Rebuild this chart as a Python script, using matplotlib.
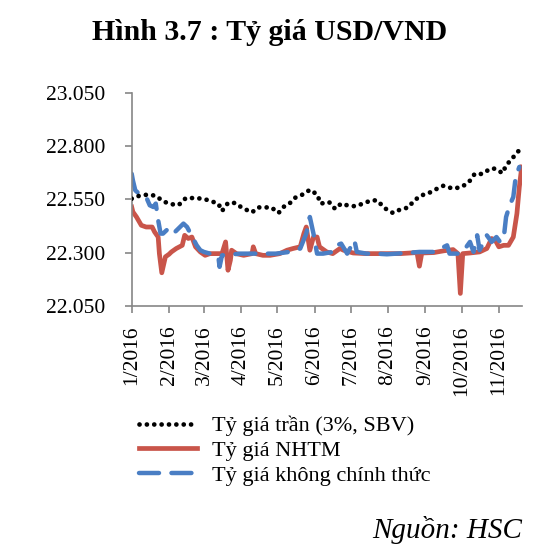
import numpy as np
import pandas as pd
import matplotlib
matplotlib.use("Agg")
import matplotlib.pyplot as plt
from matplotlib.ticker import FuncFormatter

#----------
# Data (days counted from 1/1/2016, values in VND per USD)
start = pd.Timestamp("2016-01-01")

ceiling_days = [0, 6, 13, 20, 26, 32, 39, 45, 53, 60, 66, 72, 75, 80, 86, 92, 100, 105, 111, 116,
                122, 127, 131, 136, 143, 148, 154, 157, 164, 169, 174, 179, 186, 192, 199, 204, 210,
                217, 223, 230, 234, 240, 247, 253, 259, 267, 274, 280, 285, 291, 298, 302, 308, 311,
                317, 323]
ceiling_vals = [22553, 22566, 22572, 22567, 22541, 22528, 22523, 22556, 22556, 22552, 22541, 22530,
                22495, 22533, 22533, 22509, 22489, 22512, 22512, 22512, 22486, 22519, 22530, 22558,
                22575, 22595, 22573, 22530, 22537, 22505, 22530, 22522, 22517, 22530, 22545, 22545,
                22509, 22486, 22502, 22512, 22541, 22567, 22580, 22598, 22614, 22600, 22608, 22630,
                22670, 22669, 22694, 22694, 22673, 22709, 22748, 22788]

nhtm_days = [0, 1, 4, 8, 12, 17, 19, 22, 23, 25, 28, 31, 33, 37, 42, 44, 47, 50, 53, 57, 61, 65,
             71, 75, 78, 80, 82, 83, 87, 93, 100, 101, 103, 109, 115, 123, 129, 134, 140, 143, 145,
             148, 151, 154, 156, 162, 167, 173, 176, 184, 195, 209, 223, 237, 239, 241, 251, 259,
             267, 271, 273, 275, 281, 289, 295, 299, 302, 305, 309, 313, 317, 320, 322, 324]
nhtm_vals = [22514, 22491, 22467, 22428, 22420, 22420, 22397, 22373, 22295, 22205, 22280, 22292,
             22303, 22319, 22334, 22381, 22366, 22373, 22327, 22303, 22287, 22295, 22295, 22295,
             22350, 22217, 22264, 22311, 22295, 22287, 22295, 22327, 22295, 22287, 22287, 22295,
             22311, 22319, 22327, 22389, 22420, 22311, 22373, 22373, 22327, 22303, 22295, 22319,
             22311, 22298, 22295, 22295, 22295, 22300, 22236, 22298, 22300, 22308, 22314, 22295,
             22108, 22295, 22298, 22303, 22319, 22366, 22358, 22327, 22334, 22334, 22373, 22483,
             22608, 22702]

free_days = [0, 1, 3, 6, 12, 15, 18, 20, 22, 24, 26, 29, 32, 36, 43, 46, 54, 57, 60, 65, 72, 73,
             75, 90, 104, 120, 131, 140, 145, 148, 151, 154, 159, 167, 170, 174, 179, 185, 187, 195,
             203, 212, 228, 239, 251, 262, 264, 273, 277, 281, 284, 287, 289, 295, 299, 303, 306,
             309, 311, 314, 317, 319, 322]
free_vals = [22670, 22639, 22592, 22577, 22561, 22522, 22514, 22530, 22452, 22389, 22389, 22405,
             22420, 22397, 22436, 22420, 22334, 22311, 22303, 22295, 22280, 22233, 22287, 22295,
             22295, 22295, 22303, 22319, 22389, 22467, 22389, 22295, 22295, 22303, 22334, 22342,
             22295, 22358, 22303, 22295, 22295, 22292, 22298, 22303, 22303, 22334, 22295, 22295,
             22319, 22350, 22303, 22381, 22311, 22381, 22350, 22373, 22350, 22366, 22467, 22522,
             22561, 22655, 22702]

month_ticks = ["2016-%02d-01" % m for m in range(1, 12)]
month_labels = ["%d/2016" % m for m in range(1, 12)]
y_ticks = [22050, 22300, 22550, 22800, 23050]

labels = ["Tỷ giá trần (3%, SBV)", "Tỷ giá NHTM", "Tỷ giá không chính thức"]
#----------

def to_dates(days):
    return start + pd.to_timedelta(days, unit="D")

plt.rcParams['font.family'] = ['Liberation Serif', 'DejaVu Serif']
grey = '#868686'

fig = plt.figure(figsize=(5.58, 5.56), dpi=100)
ax = fig.add_axes([0.236, 0.450, 0.699, 0.383])

ax.plot(to_dates(ceiling_days), ceiling_vals, color='black', lw=3.4,
        linestyle=(0, (0.01, 1.55)), dash_capstyle='round', label=labels[0], zorder=3)
ax.plot(to_dates(nhtm_days), nhtm_vals, color='#C9554A', lw=3.4,
        solid_joinstyle='round', label=labels[1], zorder=2)
ax.plot(to_dates(free_days), free_vals, color='#4A7EC4', lw=3.2,
        linestyle=(0, (4.5, 2.8)), dash_capstyle='round', label=labels[2], zorder=2.5)

ax.set_ylim(22050, 23050)
ax.set_yticks(y_ticks)
ax.yaxis.set_major_formatter(FuncFormatter(lambda v, p: f"{v:,.0f}".replace(",", ".")))
ax.set_xlim(start, to_dates([324])[0])
ax.set_xticks(pd.to_datetime(month_ticks))
ax.set_xticklabels(month_labels, rotation=90)

for s in ['top', 'right']:
    ax.spines[s].set_visible(False)
for s in ['left', 'bottom']:
    ax.spines[s].set_color(grey)
    ax.spines[s].set_linewidth(1.2)
ax.tick_params(axis='y', direction='out', length=5, width=1.2, color=grey, pad=14, labelsize=15.5)
ax.tick_params(axis='x', direction='out', length=5, width=1.2, color=grey, pad=9, labelsize=15.5)

fig.legend(loc='upper left', bbox_to_anchor=(0.249, 0.252), frameon=False, fontsize=16,
           borderpad=0, borderaxespad=0, handlelength=2.6, handletextpad=0.7, labelspacing=0.18)

fig.text(0.483, 0.942, "Hình 3.7 : Tỷ giá USD/VND", ha='center', va='center',
         fontsize=21.5, fontweight='bold')
fig.text(0.935, 0.047, "Nguồn: HSC", ha='right', va='center', fontsize=21, style='italic')

plt.savefig("out.png", dpi=100)
